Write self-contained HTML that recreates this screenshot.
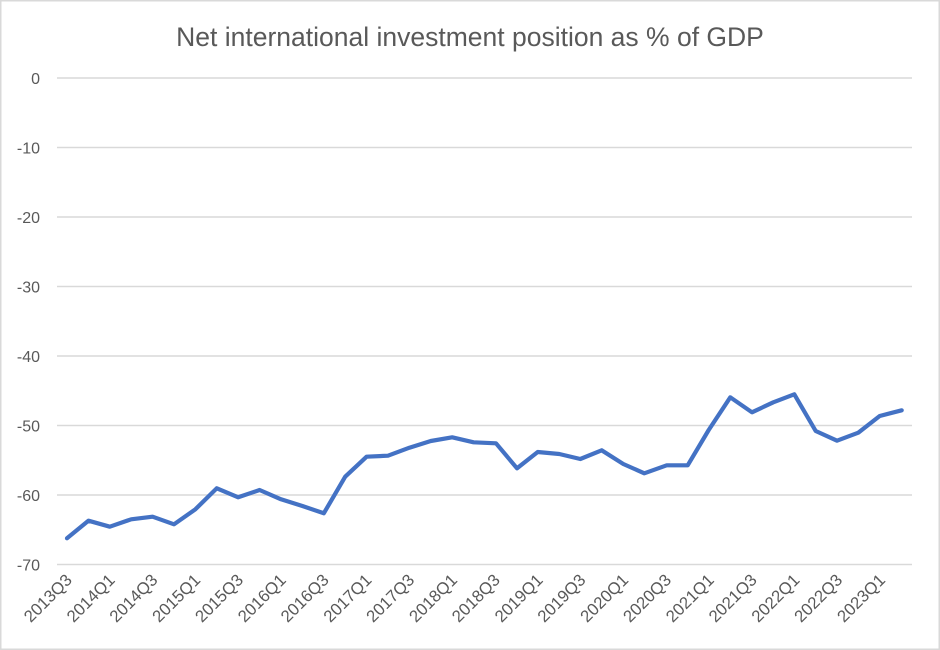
<!DOCTYPE html>
<html><head><meta charset="utf-8"><style>
html,body{margin:0;padding:0;background:#fff}
svg{display:block}
text{font-family:"Liberation Sans",sans-serif;fill:#595959}
</style></head><body>
<svg width="940" height="650" viewBox="0 0 940 650" xmlns="http://www.w3.org/2000/svg">
<rect x="0.75" y="0.75" width="938.5" height="648.5" fill="#fff" stroke="#d9d9d9" stroke-width="1.5"/>
<text x="470" y="46" text-anchor="middle" font-size="26.5">Net international investment position as % of GDP</text>
<g stroke="#d9d9d9" stroke-width="1.5">
<line x1="57" x2="912" y1="78" y2="78"/>
<line x1="57" x2="912" y1="147.5" y2="147.5"/>
<line x1="57" x2="912" y1="217" y2="217"/>
<line x1="57" x2="912" y1="286.5" y2="286.5"/>
<line x1="57" x2="912" y1="356" y2="356"/>
<line x1="57" x2="912" y1="425.5" y2="425.5"/>
<line x1="57" x2="912" y1="495" y2="495"/>
<line x1="57" x2="912" y1="564.5" y2="564.5"/>
</g>
<g font-size="16" text-anchor="end">
<text x="40" y="84">0</text>
<text x="40" y="153.5">-10</text>
<text x="40" y="223">-20</text>
<text x="40" y="292.5">-30</text>
<text x="40" y="362">-40</text>
<text x="40" y="431.5">-50</text>
<text x="40" y="501">-60</text>
<text x="40" y="570.5">-70</text>
</g>
<polyline fill="none" stroke="#4472c4" stroke-width="4.2" stroke-linejoin="round" stroke-linecap="round" points="
67,538.3 88.4,520.7 109.8,526.7 131.2,519.3 152.6,516.7 174,524.3 195.4,509.3 216.8,488.3 238.2,497.3 259.6,490 281,499.3 302.4,506 323.8,513.3 345.2,476.7 366.6,456.7 388,455.7 409.4,447.7 430.8,441 452.2,437.3 473.6,442.3 496,443.3 517,468.3 537.7,452 559.3,454 580.3,459 601.7,450.3 623.3,464 644.3,473.3 666.7,465.3 687.7,465.3 708.7,430 730.3,397.3 752,412.3 773.3,402.3 794.3,394.3 815.7,431 837,440.7 858.3,432.7 879.7,416 901.7,410.3"/>
<g font-size="16.8" text-anchor="end">
<text transform="translate(73,581) rotate(-45)">2013Q3</text>
<text transform="translate(115.8,581) rotate(-45)">2014Q1</text>
<text transform="translate(158.6,581) rotate(-45)">2014Q3</text>
<text transform="translate(201.4,581) rotate(-45)">2015Q1</text>
<text transform="translate(244.2,581) rotate(-45)">2015Q3</text>
<text transform="translate(287,581) rotate(-45)">2016Q1</text>
<text transform="translate(329.8,581) rotate(-45)">2016Q3</text>
<text transform="translate(372.6,581) rotate(-45)">2017Q1</text>
<text transform="translate(415.4,581) rotate(-45)">2017Q3</text>
<text transform="translate(458.2,581) rotate(-45)">2018Q1</text>
<text transform="translate(501,581) rotate(-45)">2018Q3</text>
<text transform="translate(543.8,581) rotate(-45)">2019Q1</text>
<text transform="translate(586.6,581) rotate(-45)">2019Q3</text>
<text transform="translate(629.4,581) rotate(-45)">2020Q1</text>
<text transform="translate(672.2,581) rotate(-45)">2020Q3</text>
<text transform="translate(715,581) rotate(-45)">2021Q1</text>
<text transform="translate(757.8,581) rotate(-45)">2021Q3</text>
<text transform="translate(800.6,581) rotate(-45)">2022Q1</text>
<text transform="translate(843.4,581) rotate(-45)">2022Q3</text>
<text transform="translate(886.2,581) rotate(-45)">2023Q1</text>
</g>
</svg>
</body></html>
